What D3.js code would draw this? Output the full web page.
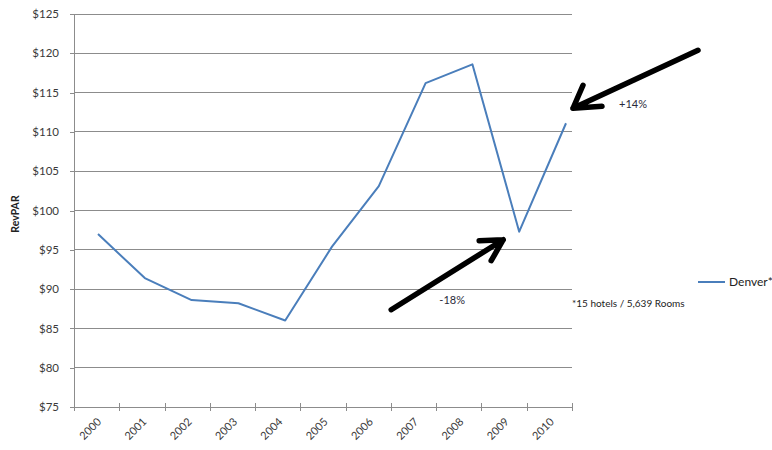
<!DOCTYPE html>
<html>
<head>
<meta charset="utf-8">
<script src="https://cdn.jsdelivr.net/npm/d3@7"></script>
<style>
  body { margin: 0; background: #fff; }
  svg { display: block; }
  text { font-family: Lato, "Open Sans", sans-serif; }
</style>
</head>
<body>
<svg id="chart" width="772" height="450"></svg>
<script>
// Denver RevPAR, 2000–2010
const years = ["2000", "2001", "2002", "2003", "2004", "2005", "2006", "2007", "2008", "2009", "2010"];
const revpar = [97.0, 91.4, 88.6, 88.2, 86.0, 95.4, 103.1, 116.2, 118.6, 97.3, 111.1];
const yTicks = [75, 80, 85, 90, 95, 100, 105, 110, 115, 120, 125];
const seriesName = "Denver*";
const footnote = "*15 hotels / 5,639 Rooms";
const yTitle = "RevPAR";
const callouts = [
  { year: "2009", text: "-18%" },
  { year: "2010", text: "+14%" }
];

const svg = d3.select("#chart");
const plot = { left: 74, right: 572, top: 14, bottom: 407 };

// category bands for the axis, and the positions where the series is plotted
const xBand = d3.scaleBand().domain(years).range([plot.left, plot.right]);
const xLine = d3.scalePoint().domain(years).range([98, 566]);
const y = d3.scaleLinear().domain([75, 125]).range([plot.bottom, plot.top]);

const gridColor = "#8c8c8c";

// horizontal gridlines
svg.append("g")
  .selectAll("line")
  .data(yTicks.filter(v => v !== 75))
  .join("line")
  .attr("x1", plot.left).attr("x2", plot.right)
  .attr("y1", d => y(d)).attr("y2", d => y(d))
  .attr("stroke", gridColor).attr("stroke-width", 1)
  .attr("shape-rendering", "crispEdges");

// y axis
const yAxis = svg.append("g")
  .attr("transform", `translate(${plot.left},0)`)
  .call(d3.axisLeft(y).tickValues(yTicks).tickFormat(d => "$" + d)
    .tickSizeInner(4).tickSizeOuter(0).tickPadding(11));
yAxis.select(".domain").attr("stroke", gridColor).attr("shape-rendering", "crispEdges");
yAxis.selectAll(".tick line").attr("stroke", gridColor).attr("shape-rendering", "crispEdges");
yAxis.selectAll(".tick text").attr("fill", "#3a3a3a").style("font-size", "11.5px")
  .style("font-family", "Lato, sans-serif");

// x axis: line, crossing tick marks at band edges, rotated labels
const xg = svg.append("g");
xg.append("line")
  .attr("x1", plot.left).attr("x2", plot.right)
  .attr("y1", plot.bottom).attr("y2", plot.bottom)
  .attr("stroke", gridColor).attr("shape-rendering", "crispEdges");
const edges = years.map(d => xBand(d)).concat([xBand(years[years.length - 1]) + xBand.bandwidth()]);
xg.selectAll("line.tick")
  .data(edges)
  .join("line")
  .attr("class", "tick")
  .attr("x1", d => Math.round(d) + 0.5).attr("x2", d => Math.round(d) + 0.5)
  .attr("y1", plot.bottom - 4).attr("y2", plot.bottom + 4)
  .attr("stroke", gridColor);
xg.selectAll("text")
  .data(years)
  .join("text")
  .attr("transform", d => `translate(${xBand(d) + xBand.bandwidth() / 2},${plot.bottom + 10}) rotate(-45)`)
  .attr("text-anchor", "end")
  .attr("dy", "0.7em")
  .attr("fill", "#3a3a3a")
  .style("font-size", "11px")
  .text(d => d);

// y axis title
svg.append("text")
  .attr("transform", "translate(19,214) rotate(-90)")
  .attr("text-anchor", "middle")
  .attr("font-weight", "bold")
  .attr("fill", "#222")
  .style("font-size", "10.5px")
  .text(yTitle);

// series line
const data = years.map((yr, i) => ({ year: yr, value: revpar[i] }));
svg.append("path")
  .datum(data)
  .attr("fill", "none")
  .attr("stroke", "#4a7ebb")
  .attr("stroke-width", 2)
  .attr("stroke-linejoin", "round")
  .attr("d", d3.line().x(d => xLine(d.year)).y(d => y(d.value)));

// legend
svg.append("line")
  .attr("x1", 698).attr("x2", 725).attr("y1", 282).attr("y2", 282)
  .attr("stroke", "#4a7ebb").attr("stroke-width", 2);
svg.append("text")
  .attr("x", 729).attr("y", 286)
  .attr("fill", "#222")
  .style("font-size", "12px")
  .text(seriesName);

// footnote
svg.append("text")
  .attr("x", 572).attr("y", 307)
  .attr("fill", "#222")
  .style("font-size", "10px")
  .text(footnote);

// call-out arrows and percentage changes, placed relative to their points
const valueOf = yr => revpar[years.indexOf(yr)];
const arrowShapes = {
  "2009": { tip: [-16, 8], tail: [-128, 78], armA: [-24, 1], armB: [-12, 21], label: [-67, 72] },
  "2010": { tip: [7, -15], tail: [132, -73], armA: [10, -23], armB: [29, -2], label: [67, -15] }
};
callouts.forEach(c => {
  const px = xLine(c.year), py = y(valueOf(c.year));
  const s = arrowShapes[c.year];
  const tip = [px + s.tip[0], py + s.tip[1]];
  const path = d3.path();
  path.moveTo(px + s.tail[0], py + s.tail[1]);
  path.lineTo(tip[0], tip[1]);
  path.moveTo(tip[0] + s.armA[0], tip[1] + s.armA[1]);
  path.lineTo(tip[0], tip[1]);
  path.lineTo(tip[0] + s.armB[0], tip[1] + s.armB[1]);
  svg.append("path")
    .attr("d", path.toString())
    .attr("fill", "none")
    .attr("stroke", "#000")
    .attr("stroke-width", 5.5)
    .attr("stroke-linecap", "round")
    .attr("stroke-linejoin", "round");
  svg.append("text")
    .attr("x", px + s.label[0]).attr("y", py + s.label[1])
    .attr("text-anchor", "middle")
    .attr("fill", "#2a2a3a")
    .style("font-size", "11px")
    .text(c.text);
});
</script>
</body>
</html>
